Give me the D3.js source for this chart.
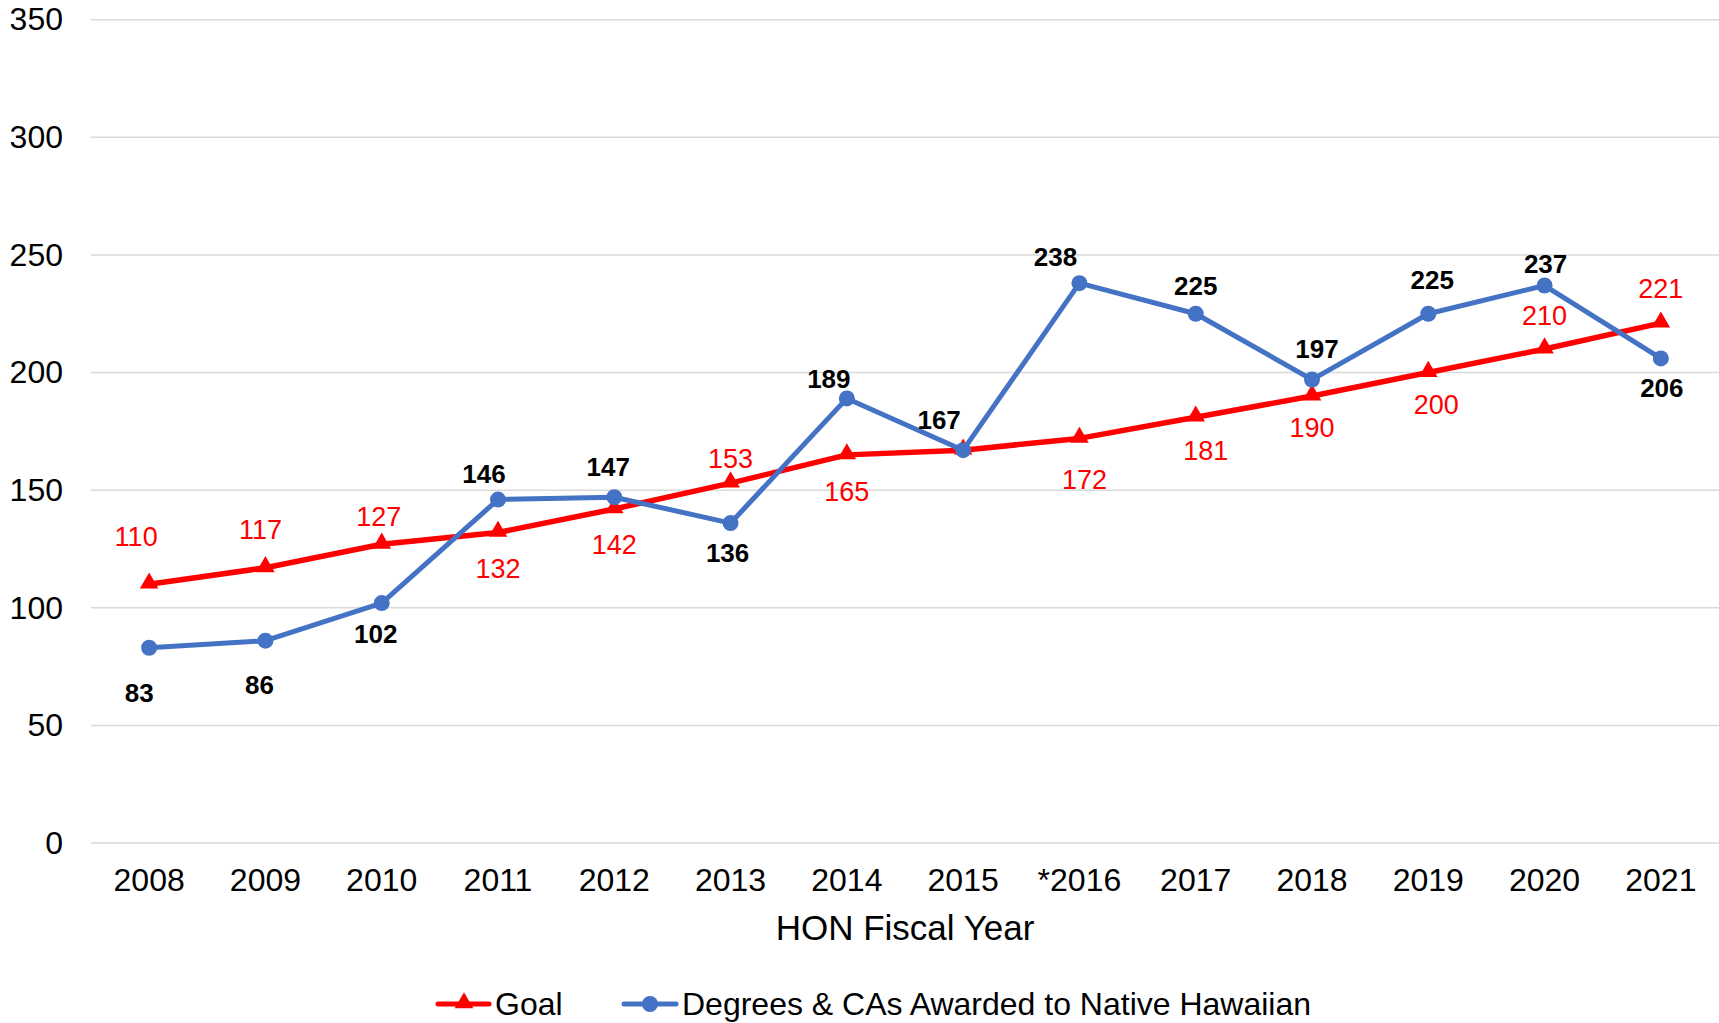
<!DOCTYPE html>
<html>
<head>
<meta charset="utf-8">
<script src="https://cdn.jsdelivr.net/npm/d3@7"></script>
<style>
  body { margin: 0; background: #fff; }
  svg { display: block; font-family: "Liberation Sans", Arial, sans-serif; }
</style>
</head>
<body>
<svg id="chart" width="1719" height="1023"></svg>
<script>
const years = ["2008", "2009", "2010", "2011", "2012", "2013", "2014", "2015", "*2016", "2017", "2018", "2019", "2020", "2021"];
const goal = [110, 117, 127, 132, 142, 153, 165, 167, 172, 181, 190, 200, 210, 221];
const awarded = [83, 86, 102, 146, 147, 136, 189, 167, 238, 225, 197, 225, 237, 206];
const yTicks = [0, 50, 100, 150, 200, 250, 300, 350];

// label nudges (px) for the data labels, as placed in the original
const goalLabelDx = [-13, -5, -3, 0, 0, 0, 0, 0, 5, 10, 0, 8, 0, 0];
const goalLabelDy = [-48, -38, -28, 36, 36, -25, 37, null, 41, 33, 31, 32, -33, -35];
const awardLabelDx = [-10, -6, -6, -14, -6, -3, -18, -24, -24, 0, 5, 4, 1, 1];
const awardLabelDy = [45, 44, 31, -26, -30, 30, -20, -30, -26, -28, -31, -34, -22, 29];

const svg = d3.select("#chart");
const margin = {left: 91, right: 0, top: 20, bottom: 180};
const width = 1719, height = 1023;

let x = d3.scaleBand()
  .domain(years)
  .range([margin.left, width - margin.right]);

let y = d3.scaleLinear()
  .domain([0, 350])
  .range([843, 19.7]);

const cx = d => x(d) + x.bandwidth() / 2;

// grid lines
svg.append("g")
  .selectAll("line")
  .data(yTicks)
  .join("line")
  .attr("x1", margin.left)
  .attr("x2", width)
  .attr("y1", d => y(d))
  .attr("y2", d => y(d))
  .attr("stroke", "#d9d9d9")
  .attr("stroke-width", 1.5);

// y axis labels
let yAxis = svg.append("g")
  .attr("transform", `translate(${63}, 0)`)
  .call(d3.axisLeft(y).tickValues(yTicks).tickSize(0).tickPadding(0));
yAxis.select(".domain").remove();
yAxis.selectAll("text")
  .attr("font-size", 32)
  .attr("fill", "#000")
  .attr("font-family", "Liberation Sans, Arial, sans-serif");

// x axis labels
let xAxis = svg.append("g")
  .attr("transform", `translate(0, ${868})`)
  .call(d3.axisBottom(x).tickSize(0).tickPadding(0));
xAxis.select(".domain").remove();
xAxis.selectAll("text")
  .attr("font-size", 32)
  .attr("fill", "#000")
  .attr("font-family", "Liberation Sans, Arial, sans-serif");

svg.append("text")
  .attr("x", (margin.left + width) / 2)
  .attr("y", 940)
  .attr("text-anchor", "middle")
  .attr("font-size", 35)
  .attr("fill", "#000")
  .text("HON Fiscal Year");

const line = d3.line()
  .x((d, i) => cx(years[i]))
  .y(d => y(d));

const triangle = d3.symbol().type(d3.symbolTriangle).size(150);

// Goal series
svg.append("path")
  .datum(goal)
  .attr("d", line)
  .attr("fill", "none")
  .attr("stroke", "#ff0000")
  .attr("stroke-width", 5.5)
  .attr("stroke-linejoin", "round");

svg.append("g")
  .selectAll("path")
  .data(goal)
  .join("path")
  .attr("d", triangle)
  .attr("transform", (d, i) => `translate(${cx(years[i])}, ${y(d) - 1})`)
  .attr("fill", "#ff0000");

// Degrees series
svg.append("path")
  .datum(awarded)
  .attr("d", line)
  .attr("fill", "none")
  .attr("stroke", "#4472c4")
  .attr("stroke-width", 5)
  .attr("stroke-linejoin", "round");

svg.append("g")
  .selectAll("circle")
  .data(awarded)
  .join("circle")
  .attr("cx", (d, i) => cx(years[i]))
  .attr("cy", d => y(d))
  .attr("r", 8)
  .attr("fill", "#4472c4");

// data labels
svg.append("g")
  .selectAll("text")
  .data(goal.map((v, i) => ({v, i})).filter(d => goalLabelDy[d.i] !== null))
  .join("text")
  .attr("x", d => cx(years[d.i]) + goalLabelDx[d.i])
  .attr("y", d => y(d.v) + goalLabelDy[d.i])
  .attr("dy", "0.35em")
  .attr("text-anchor", "middle")
  .attr("font-size", 27)
  .attr("fill", "#ff0000")
  .text(d => d.v);

svg.append("g")
  .selectAll("text")
  .data(awarded)
  .join("text")
  .attr("x", (d, i) => cx(years[i]) + awardLabelDx[i])
  .attr("y", (d, i) => y(d) + awardLabelDy[i])
  .attr("dy", "0.35em")
  .attr("text-anchor", "middle")
  .attr("font-size", 26)
  .attr("font-weight", "bold")
  .attr("fill", "#000")
  .text(d => d);

// legend
const legendY = 1004;
let lg = svg.append("g");
lg.append("line")
  .attr("x1", 438).attr("x2", 489)
  .attr("y1", legendY).attr("y2", legendY)
  .attr("stroke", "#ff0000").attr("stroke-width", 5).attr("stroke-linecap", "round");
lg.append("path")
  .attr("d", triangle)
  .attr("transform", `translate(${464}, ${legendY - 1})`)
  .attr("fill", "#ff0000");
lg.append("text")
  .attr("x", 495).attr("y", legendY)
  .attr("dy", "0.35em")
  .attr("font-size", 32)
  .attr("fill", "#000")
  .text("Goal");

lg.append("line")
  .attr("x1", 624).attr("x2", 676)
  .attr("y1", legendY).attr("y2", legendY)
  .attr("stroke", "#4472c4").attr("stroke-width", 5).attr("stroke-linecap", "round");
lg.append("circle")
  .attr("cx", 650).attr("cy", legendY).attr("r", 8)
  .attr("fill", "#4472c4");
lg.append("text")
  .attr("x", 682).attr("y", legendY)
  .attr("dy", "0.35em")
  .attr("font-size", 32)
  .attr("fill", "#000")
  .text("Degrees & CAs Awarded to Native Hawaiian");
</script>
</body>
</html>
